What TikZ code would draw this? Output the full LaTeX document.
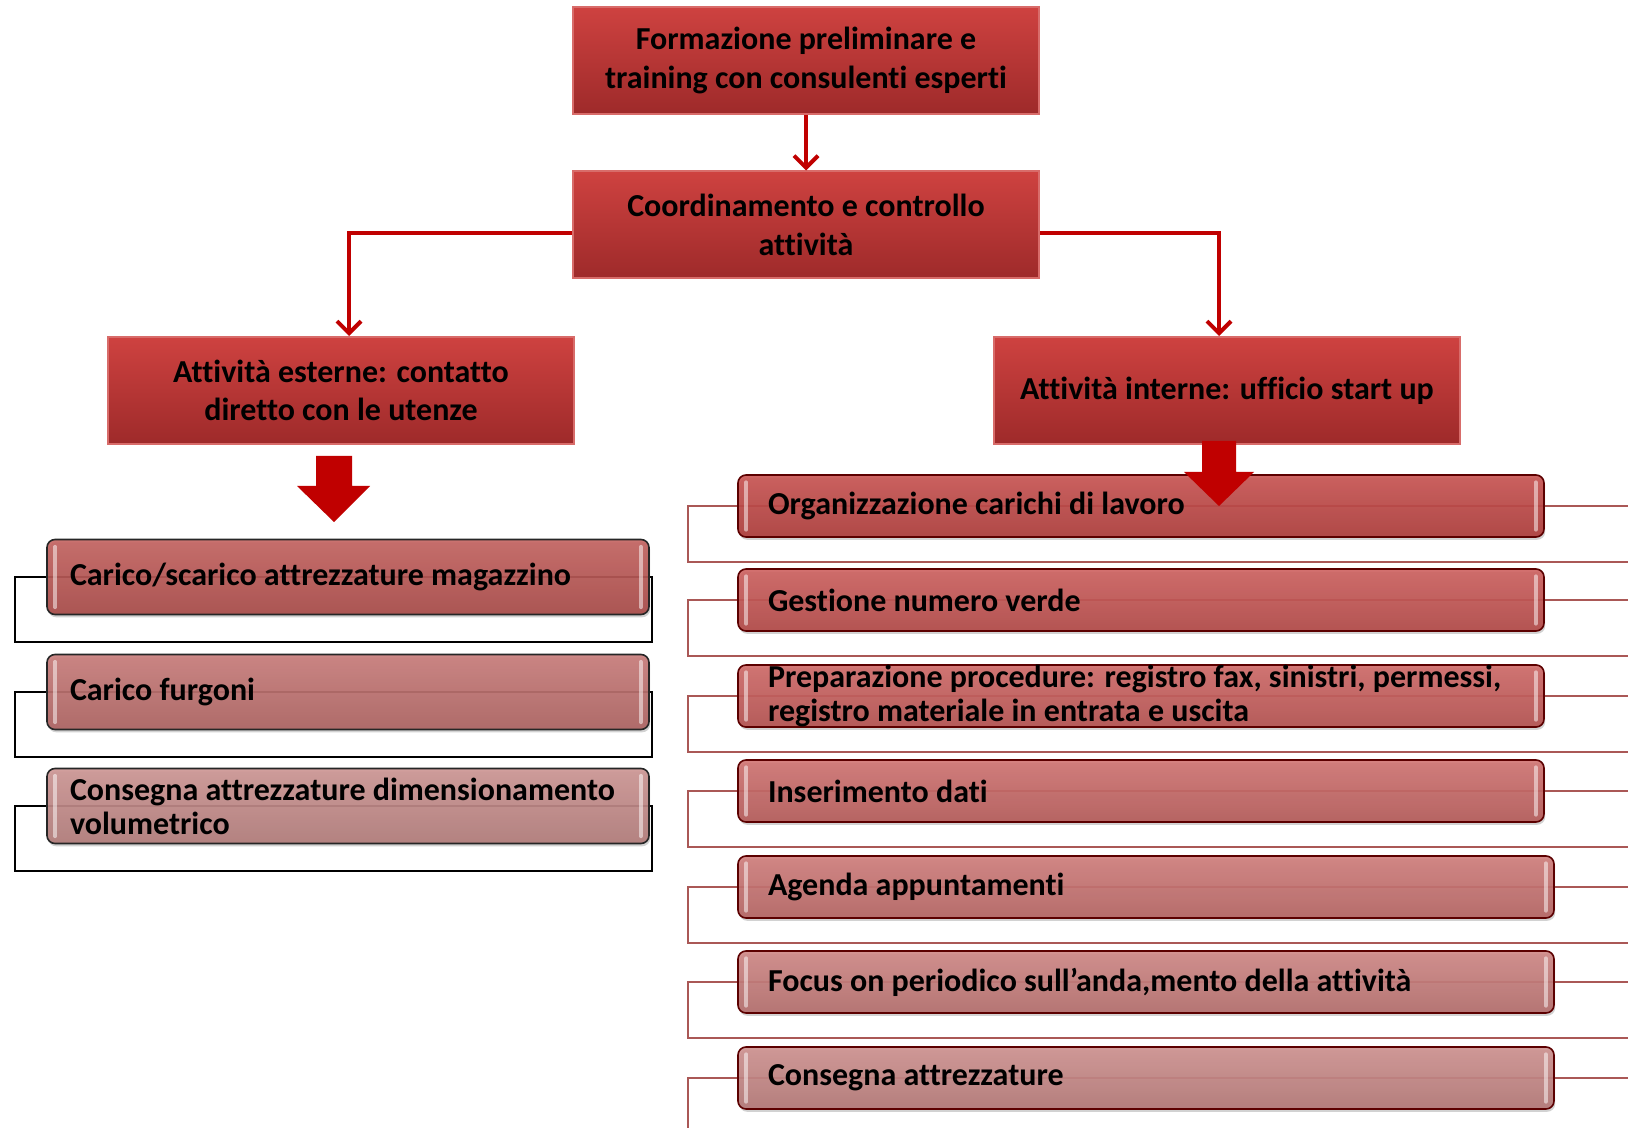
\documentclass[tikz,border=0pt]{standalone}
\usepackage{fontspec}
\setmainfont{Carlito}[Ligatures={TeX,NoCommon}]
\usetikzlibrary{arrows.meta,shadows,backgrounds,calc}
\definecolor{cred}{RGB}{192,0,0}
\definecolor{bxtop}{RGB}{206,66,64}
\definecolor{bxbot}{RGB}{158,42,42}
\definecolor{bxedge}{RGB}{216,108,106}
\definecolor{rline}{RGB}{170,88,86}
\definecolor{pL1}{RGB}{190,82,79}
\definecolor{pL2}{RGB}{195,110,108}
\definecolor{pL3}{RGB}{200,138,136}
\definecolor{pR1}{RGB}{196,66,64}
\definecolor{pR2}{RGB}{201,80,78}
\definecolor{pR3}{RGB}{203,90,88}
\definecolor{pR4}{RGB}{204,101,99}
\definecolor{pR5}{RGB}{204,112,110}
\definecolor{pR6}{RGB}{203,123,121}
\definecolor{pR7}{RGB}{202,134,132}
\begin{document}
\begin{tikzpicture}[x=0.5pt,y=-0.5pt,
  font=\bfseries\fontsize{16}{19.2}\selectfont,
  box/.style={rectangle, top color=bxtop, bottom color=bxbot, draw=bxedge,
    line width=1pt, minimum width=233pt, minimum height=53.5pt,
    align=center, inner sep=0pt},
  pillbase/.style={rectangle, rounded corners=4pt,
    line width=0.8pt, top color=#1!90!white, bottom color=#1!88!black,
    fill opacity=0.9, text opacity=1, inner ysep=0pt, align=flush left,
    drop shadow={shadow xshift=0.6pt, shadow yshift=-1.4pt, opacity=0.35}},
  pillL/.style={pillbase=#1, draw=black!85, minimum height=37.5pt, text width=278pt, inner xsep=11.5pt,
    font=\bfseries\fontsize{16}{17.1}\selectfont},
  pillR/.style={pillbase=#1, draw=black!40!red!60!black, minimum height=31pt, text width=373pt, inner xsep=15pt,
    font=\bfseries\fontsize{16}{17.1}\selectfont},
  pillRw/.style={pillR=#1, text width=378pt},
  conn/.style={draw=cred, line width=2pt, -{Straight Barb[length=6pt,width=12pt]}},
  brL/.style={draw=black, line width=1pt},
  brR/.style={draw=rline, line width=0.9pt},
  hl/.style={draw=white, opacity=0.5, line width=1.8pt, line cap=round},
  blk/.style={fill=cred}
]
\useasboundingbox (0,0) rectangle (1628,1128);

% top boxes
\node[box] (b1) at (806,60.5) {Formazione preliminare e\\training con consulenti esperti};
\node[box] (b2) at (806,225) {Coordinamento e controllo\\attività};
\node[box] (b3) at (341,390.5) {Attività esterne: contatto\\diretto con le utenze};
\node[box] (b4) at (1227,390.5) {Attività interne: ufficio start up};

\draw[conn] (b1.south) -- (b2.north);
\draw[conn] ([yshift=-4pt]b2.west) -| ([xshift=4pt]b3.north);
\draw[conn] ([yshift=-4pt]b2.east) -| ([xshift=-4pt]b4.north);

% left list
\node[pillL=pL1] (l1) at (348,577) {Carico/scarico attrezzature magazzino};
\node[pillL=pL2] (l2) at (348,692) {Carico furgoni};
\node[pillL=pL3] (l3) at (348,806) {\mbox{Consegna attrezzature dimensionamento}\\volumetrico};

% right list
\node[pillR=pR1] (r1) at (1141,506) {Organizzazione carichi di lavoro};
\node[pillR=pR2] (r2) at (1141,600) {Gestione numero verde};
\node[pillR=pR3] (r3) at (1141,696) {\mbox{Preparazione procedure: registro fax, sinistri, permessi,}\\registro materiale in entrata e uscita};
\node[pillR=pR4] (r4) at (1141,791) {Inserimento dati};
\node[pillRw=pR5] (r5) at (1146,887) {Agenda appuntamenti};
\node[pillRw=pR6] (r6) at (1146,982) {Focus on periodico sull’anda,mento della attività};
\node[pillRw=pR7] (r7) at (1146,1078) {Consegna attrezzature};

\begin{pgfonlayer}{background}
  \fill[white] (0,0) rectangle (1628,1128);
  \foreach \n in {l1,l2,l3}{
    \draw[brL] ([xshift=-15.5pt]\n.west) rectangle ([xshift=1pt,yshift=-13.5pt]\n.south east);
  }
  \foreach \n in {r1,r2,r3,r4,r5,r6,r7}{
    \draw[brR] ([xshift=-24.5pt]\n.west) rectangle ([xshift=60pt,yshift=-12pt]\n.south east);
  }
\end{pgfonlayer}

\foreach \n in {l1,l2,l3,r1,r2,r3,r4,r5,r6,r7}{
  \draw[hl] ([xshift=4.5pt,yshift=-4pt]\n.north west) -- ([xshift=4.5pt,yshift=4pt]\n.south west);
  \draw[hl] ([xshift=-4.5pt,yshift=-4pt]\n.north east) -- ([xshift=-4.5pt,yshift=4pt]\n.south east);
}

% block arrows
\fill[blk] (316,456) -- (352,456) -- (352,486) -- (370,486) -- (334,522) -- (297,486) -- (316,486) -- cycle;
\fill[blk] (1202,441) -- (1236,441) -- (1236,472) -- (1254,472) -- (1219,506) -- (1184,472) -- (1202,472) -- cycle;
\end{tikzpicture}
\end{document}
